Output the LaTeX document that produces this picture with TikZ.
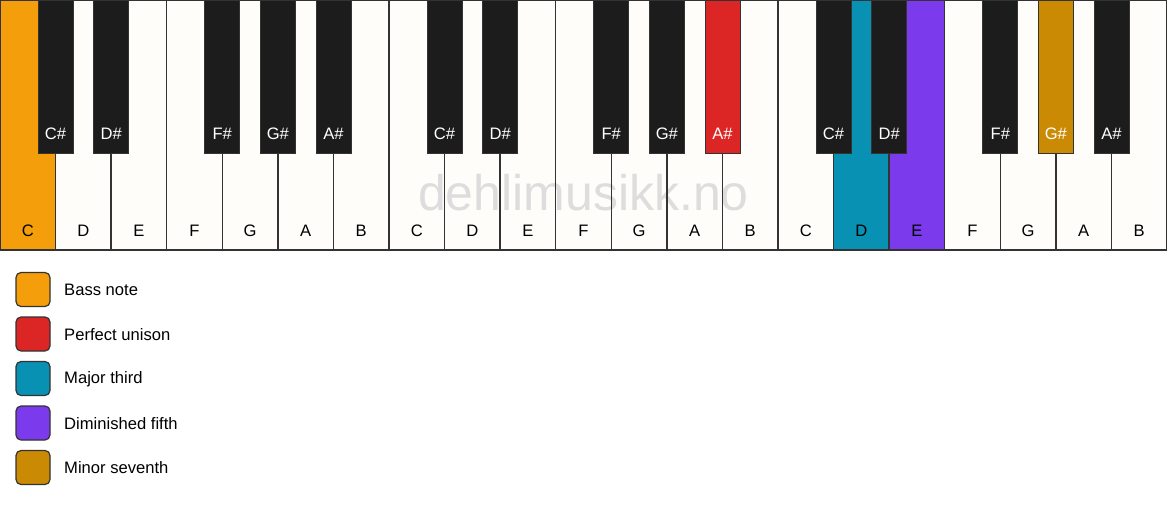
\documentclass[tikz,border=0pt]{standalone}
\usepackage{fontspec}
\setmainfont{Liberation Sans}
\definecolor{whitekey}{HTML}{FFFDF9}
\definecolor{blackkey}{HTML}{1C1C1C}
\definecolor{keyline}{HTML}{333333}
\definecolor{bass}{HTML}{F59E0B}
\definecolor{unison}{HTML}{DC2626}
\definecolor{third}{HTML}{0891B2}
\definecolor{fifth}{HTML}{7C3AED}
\definecolor{seventh}{HTML}{CA8A04}
\definecolor{wmark}{HTML}{DDDDDD}
\begin{document}
\begin{tikzpicture}[x=1pt,y=-1pt,
  wlabel/.style={anchor=base, font=\fontsize{16.6}{18}\selectfont, text=black, inner sep=0pt},
  blabel/.style={anchor=base, font=\fontsize{16.6}{18}\selectfont, text=white, inner sep=0pt},
  keyborder/.style={draw=keyline, line width=1.5pt},
  bkey/.style={draw=keyline, line width=0.8pt},
  legbox/.style={draw=keyline, line width=1.2pt, rounded corners=5pt, minimum width=34pt, minimum height=34pt, inner sep=0pt},
  legtext/.style={anchor=west, font=\fontsize{16.6}{18}\selectfont, inner sep=0pt}]
\useasboundingbox (0,0) rectangle (1167,506);
\fill[white] (0,0) rectangle (1167,506);
\def\w{55.5714}
% white keys fill
\fill[whitekey] (0,0) rectangle (1167,250);
\fill[bass] (0,0) rectangle (\w,250);
\fill[third] (15*\w,0) rectangle (16*\w,250);
\fill[fifth] (16*\w,0) rectangle (17*\w,250);
% watermark
\node[font=\fontsize{50}{56}\selectfont, text=wmark, anchor=base, inner sep=0pt] (wm) at (583.5,210) {dehlimusikk.no};
% white key borders and labels
\draw[keyborder] (0,0) rectangle (1167,250);
\foreach \n [count=\i from 0] in {C,D,E,F,G,A,B,C,D,E,F,G,A,B,C,D,E,F,G,A,B} {
  \ifnum\i>0 \draw[keyborder] (\i*\w,0) -- (\i*\w,250); \fi
  \node[wlabel] (w\i) at ({(\i+0.5)*\w},236.5) {\n};
}
% black keys
\foreach \o in {0,1,2} {
  \foreach \k/\n in {1/C\#,2/D\#,4/F\#,5/G\#,6/A\#} {
    \pgfmathsetmacro\cx{(7*\o+\k)*\w}
    \fill[blackkey,bkey] (\cx-17.5,0) rectangle (\cx+17.5,153);
  }
}
\fill[unison,bkey] (13*\w-17.5,0) rectangle (13*\w+17.5,153);
\fill[seventh,bkey] (19*\w-17.5,0) rectangle (19*\w+17.5,153);
\foreach \o in {0,1,2} {
  \foreach \k/\n in {1/C\#,2/D\#,4/F\#,5/G\#,6/A\#} {
    \pgfmathsetmacro\cx{(7*\o+\k)*\w}
    \node[blabel] (b\o\k) at (\cx,139) {\n};
  }
}
% legend
\node[legbox, fill=bass] (l1) at (33,289.5) {};
\node[legtext] (t1) at (64,290) {Bass note};
\node[legbox, fill=unison] (l2) at (33,334) {};
\node[legtext] (t2) at (64,334.5) {Perfect unison};
\node[legbox, fill=third] (l3) at (33,378.5) {};
\node[legtext] (t3) at (64,379) {Major third};
\node[legbox, fill=fifth] (l4) at (33,423) {};
\node[legtext] (t4) at (64,423.5) {Diminished fifth};
\node[legbox, fill=seventh] (l5) at (33,467.5) {};
\node[legtext] (t5) at (64,468) {Minor seventh};
\end{tikzpicture}
\end{document}
